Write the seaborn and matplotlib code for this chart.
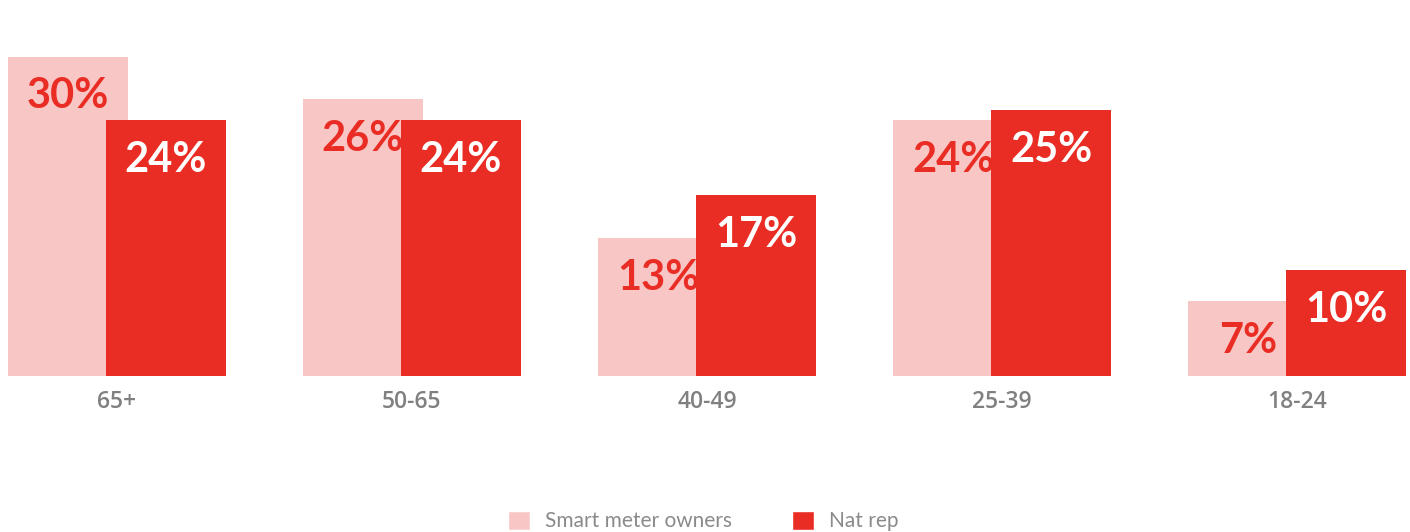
import numpy as np
import pandas as pd
import seaborn as sns
import matplotlib.pyplot as plt

# data
ages = ["65+", "50-65", "40-49", "25-39", "18-24"]
smart_owners = [30, 26, 13, 24, 7]
nat_rep = [24, 24, 17, 25, 10]
series_names = ["Smart meter owners", "Nat rep"]

light = "#f8c6c5"
dark = "#ea2d24"
grey = "#808080"

sns.set_style("white")
plt.rcParams["font.family"] = ["Lato", "DejaVu Sans"]

df = pd.DataFrame({
    "age": ages * 2,
    "group": [series_names[0]] * len(ages) + [series_names[1]] * len(ages),
    "value": smart_owners + nat_rep,
})

fig = plt.figure(figsize=(14.1, 5.32), dpi=100)
ax = fig.add_axes([8 / 1410, 1 - 376 / 532, 1398 / 1410, 376 / 532])

sns.barplot(data=df, x="age", y="value", hue="group", palette=[light, dark],
            width=0.74, dodge=True, saturation=1, ax=ax, errorbar=None)

# bars overlap a bit in the original
bar_w = 0.407
offsets = [-0.166, 0.166]
for i, cont in enumerate(ax.containers):
    for j, bar in enumerate(cont):
        bar.set_width(bar_w)
        bar.set_x(j + offsets[i] - bar_w / 2)
        bar.set_linewidth(0)

px_per_unit = 10.65
ax.set_ylim(0, 376 / px_per_unit)
ax.set_xlim(-0.369, len(ages) - 1 + 0.369)

txt_colors = [dark, "white"]
for i, vals in enumerate([smart_owners, nat_rep]):
    for j, v in enumerate(vals):
        ax.annotate(f"{v}%", (j + offsets[i], v), xytext=(0, -40),
                    textcoords="offset pixels", ha="center", va="center",
                    fontsize=30, fontweight="bold", color=txt_colors[i], zorder=5)

sns.despine(ax=ax, left=True, bottom=True)
ax.set_yticks([])
ax.set_xlabel("")
ax.set_ylabel("")
ax.set_xticks(range(len(ages)))
ax.set_xticklabels(ages, fontfamily=["Open Sans", "DejaVu Sans"], fontweight="semibold",
                   fontsize=16.5, color=grey)
ax.tick_params(axis="x", length=0, pad=10)

sns.move_legend(ax, "center", bbox_to_anchor=(703.5 / 1410, 1 - 521 / 532),
                bbox_transform=fig.transFigure, ncol=2, frameon=False, title=None,
                fontsize=15, handlelength=1.05, handleheight=1.05, handletextpad=0.72,
                columnspacing=2.9, labelcolor="#8a8a8a")

fig.savefig("out.png", dpi=100)
